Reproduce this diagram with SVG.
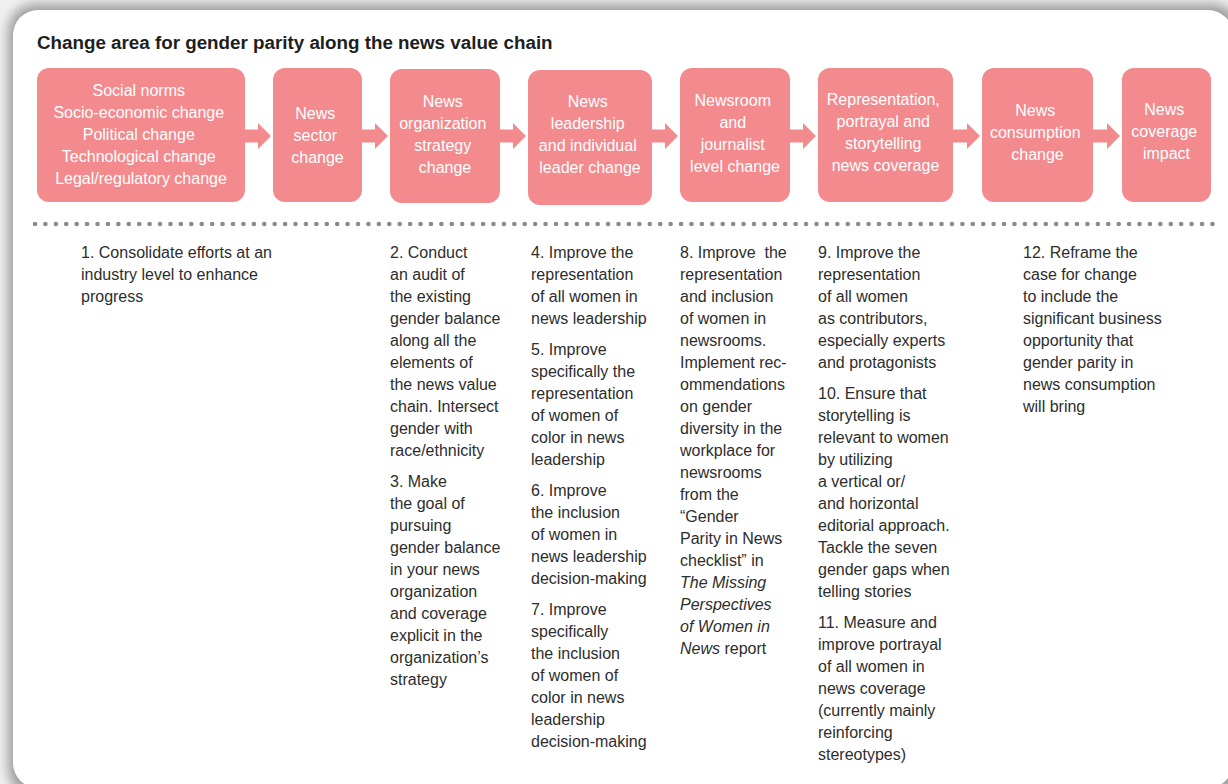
<svg xmlns="http://www.w3.org/2000/svg" width="1228" height="784" viewBox="0 0 1228 784">
  <defs>
    <filter id="shadow" x="-5%" y="-5%" width="110%" height="110%">
      <feGaussianBlur stdDeviation="6"/>
    </filter>
    <style>
      .box { fill: #F28A8E; }
      .arrow { fill: #F28A8E; }
      .bt { font-family: "Liberation Sans", Arial, sans-serif; font-size: 16px; fill: #ffffff; text-anchor: middle; }
      .body { font-family: "Liberation Sans", Arial, sans-serif; font-size: 16px; fill: #2d2d2d; white-space: pre; }
      .title { font-family: "Liberation Sans", Arial, sans-serif; font-size: 18.8px; font-weight: bold; fill: #1e1e1e; }
      .it { font-style: italic; }
      .dots { stroke: #8a8b8f; stroke-width: 4.6; stroke-linecap: round; stroke-dasharray: 0 10.42; fill: none; }
    </style>
  </defs>

  <rect x="0" y="0" width="1228" height="784" fill="#f1f1f1"/>
  <rect x="8" y="4" width="1232" height="792" rx="27" fill="#8e8e8e" opacity="0.85" filter="url(#shadow)"/>
  <rect id="panel" x="13" y="10" width="1220" height="778" rx="25" fill="#ffffff"/>

  <text class="title" x="37" y="49">Change area for gender parity along the news value chain</text>

  <g id="connectors">
    <path class="arrow" d="M244 129.5 H258 V123 L271 136 L258 149 V142.5 H244 Z"/>
    <path class="arrow" d="M361 129.5 H375 V123 L388 136 L375 149 V142.5 H361 Z"/>
    <path class="arrow" d="M499 129.5 H513 V123 L526 136 L513 149 V142.5 H499 Z"/>
    <path class="arrow" d="M651 129.5 H665 V123 L678 136 L665 149 V142.5 H651 Z"/>
    <path class="arrow" d="M789 129.5 H803 V123 L816 136 L803 149 V142.5 H789 Z"/>
    <path class="arrow" d="M952 129.5 H967 V123 L980 136 L967 149 V142.5 H952 Z"/>
    <path class="arrow" d="M1092 129.5 H1107 V123 L1120 136 L1107 149 V142.5 H1092 Z"/>
  </g>

  <g id="node-societal">
    <rect class="box" x="37" y="68" width="208" height="134" rx="12"/>
    <text class="bt">
      <tspan x="141" y="96">Social norms</tspan>
      <tspan x="141" y="118">Socio-economic change</tspan>
      <tspan x="141" y="140">Political change</tspan>
      <tspan x="141" y="162">Technological change</tspan>
      <tspan x="141" y="184">Legal/regulatory change</tspan>
    </text>
  </g>

  <g id="node-sector">
    <rect class="box" x="273" y="68" width="89" height="134" rx="12"/>
    <text class="bt">
      <tspan x="317.5" y="119">News</tspan>
      <tspan x="317.5" y="141">sector</tspan>
      <tspan x="317.5" y="163">change</tspan>
    </text>
  </g>

  <g id="node-organization">
    <rect class="box" x="390" y="69" width="110" height="134" rx="12"/>
    <text class="bt">
      <tspan x="445" y="107">News</tspan>
      <tspan x="445" y="129">organization</tspan>
      <tspan x="445" y="151">strategy</tspan>
      <tspan x="445" y="173">change</tspan>
    </text>
  </g>

  <g id="node-leadership">
    <rect class="box" x="528" y="70" width="124" height="135" rx="12"/>
    <text class="bt">
      <tspan x="590" y="107">News</tspan>
      <tspan x="590" y="129">leadership</tspan>
      <tspan x="590" y="151">and individual</tspan>
      <tspan x="590" y="173">leader change</tspan>
    </text>
  </g>

  <g id="node-newsroom">
    <rect class="box" x="680" y="68" width="110" height="134" rx="12"/>
    <text class="bt">
      <tspan x="735" y="106">Newsroom</tspan>
      <tspan x="735" y="128">and</tspan>
      <tspan x="735" y="150">journalist</tspan>
      <tspan x="735" y="172">level change</tspan>
    </text>
  </g>

  <g id="node-representation">
    <rect class="box" x="818" y="68" width="135" height="134" rx="12"/>
    <text class="bt">
      <tspan x="885.5" y="105">Representation,</tspan>
      <tspan x="885.5" y="127">portrayal and</tspan>
      <tspan x="885.5" y="149">storytelling</tspan>
      <tspan x="885.5" y="171">news coverage</tspan>
    </text>
  </g>

  <g id="node-consumption">
    <rect class="box" x="982" y="68" width="111" height="134" rx="12"/>
    <text class="bt">
      <tspan x="1037.5" y="116">News</tspan>
      <tspan x="1037.5" y="138">consumption</tspan>
      <tspan x="1037.5" y="160">change</tspan>
    </text>
  </g>

  <g id="node-impact">
    <rect class="box" x="1122" y="68" width="89" height="134" rx="12"/>
    <text class="bt">
      <tspan x="1166.5" y="115">News</tspan>
      <tspan x="1166.5" y="137">coverage</tspan>
      <tspan x="1166.5" y="159">impact</tspan>
    </text>
  </g>

  <g id="divider">
    <line class="dots" x1="35" y1="224" x2="1216" y2="224"/>
  </g>

  <g id="actions-col1">
    <text class="body">
      <tspan x="81" y="258">1. Consolidate efforts at an</tspan>
      <tspan x="81" y="280">industry level to enhance</tspan>
      <tspan x="81" y="302">progress</tspan>
    </text>
  </g>

  <g id="actions-col2">
    <text class="body">
      <tspan x="390" y="258">2. Conduct</tspan>
      <tspan x="390" y="280">an audit of</tspan>
      <tspan x="390" y="302">the existing</tspan>
      <tspan x="390" y="324">gender balance</tspan>
      <tspan x="390" y="346">along all the</tspan>
      <tspan x="390" y="368">elements of</tspan>
      <tspan x="390" y="390">the news value</tspan>
      <tspan x="390" y="412">chain. Intersect</tspan>
      <tspan x="390" y="434">gender with</tspan>
      <tspan x="390" y="456">race/ethnicity</tspan>
      <tspan x="390" y="487">3. Make</tspan>
      <tspan x="390" y="509">the goal of</tspan>
      <tspan x="390" y="531">pursuing</tspan>
      <tspan x="390" y="553">gender balance</tspan>
      <tspan x="390" y="575">in your news</tspan>
      <tspan x="390" y="597">organization</tspan>
      <tspan x="390" y="619">and coverage</tspan>
      <tspan x="390" y="641">explicit in the</tspan>
      <tspan x="390" y="663">organization’s</tspan>
      <tspan x="390" y="685">strategy</tspan>
    </text>
  </g>

  <g id="actions-col3">
    <text class="body">
      <tspan x="531" y="258">4. Improve the</tspan>
      <tspan x="531" y="280">representation</tspan>
      <tspan x="531" y="302">of all women in</tspan>
      <tspan x="531" y="324">news leadership</tspan>
      <tspan x="531" y="355">5. Improve</tspan>
      <tspan x="531" y="377">specifically the</tspan>
      <tspan x="531" y="399">representation</tspan>
      <tspan x="531" y="421">of women of</tspan>
      <tspan x="531" y="443">color in news</tspan>
      <tspan x="531" y="465">leadership</tspan>
      <tspan x="531" y="496">6. Improve</tspan>
      <tspan x="531" y="518">the inclusion</tspan>
      <tspan x="531" y="540">of women in</tspan>
      <tspan x="531" y="562">news leadership</tspan>
      <tspan x="531" y="584">decision-making</tspan>
      <tspan x="531" y="615">7. Improve</tspan>
      <tspan x="531" y="637">specifically</tspan>
      <tspan x="531" y="659">the inclusion</tspan>
      <tspan x="531" y="681">of women of</tspan>
      <tspan x="531" y="703">color in news</tspan>
      <tspan x="531" y="725">leadership</tspan>
      <tspan x="531" y="747">decision-making</tspan>
    </text>
  </g>

  <g id="actions-col4">
    <text class="body">
      <tspan x="680" y="258">8. Improve  the</tspan>
      <tspan x="680" y="280">representation</tspan>
      <tspan x="680" y="302">and inclusion</tspan>
      <tspan x="680" y="324">of women in</tspan>
      <tspan x="680" y="346">newsrooms.</tspan>
      <tspan x="680" y="368">Implement rec-</tspan>
      <tspan x="680" y="390">ommendations</tspan>
      <tspan x="680" y="412">on gender</tspan>
      <tspan x="680" y="434">diversity in the</tspan>
      <tspan x="680" y="456">workplace for</tspan>
      <tspan x="680" y="478">newsrooms</tspan>
      <tspan x="680" y="500">from the</tspan>
      <tspan x="680" y="522">“Gender</tspan>
      <tspan x="680" y="544">Parity in News</tspan>
      <tspan x="680" y="566">checklist” in</tspan>
      <tspan class="it" x="680" y="588">The Missing</tspan>
      <tspan class="it" x="680" y="610">Perspectives</tspan>
      <tspan class="it" x="680" y="632">of Women in</tspan>
      <tspan class="it" x="680" y="654">News</tspan><tspan> report</tspan>
    </text>
  </g>

  <g id="actions-col5">
    <text class="body">
      <tspan x="818" y="258">9. Improve the</tspan>
      <tspan x="818" y="280">representation</tspan>
      <tspan x="818" y="302">of all women</tspan>
      <tspan x="818" y="324">as contributors,</tspan>
      <tspan x="818" y="346">especially experts</tspan>
      <tspan x="818" y="368">and protagonists</tspan>
      <tspan x="818" y="399">10. Ensure that</tspan>
      <tspan x="818" y="421">storytelling is</tspan>
      <tspan x="818" y="443">relevant to women</tspan>
      <tspan x="818" y="465">by utilizing</tspan>
      <tspan x="818" y="487">a vertical or/</tspan>
      <tspan x="818" y="509">and horizontal</tspan>
      <tspan x="818" y="531">editorial approach.</tspan>
      <tspan x="818" y="553">Tackle the seven</tspan>
      <tspan x="818" y="575">gender gaps when</tspan>
      <tspan x="818" y="597">telling stories</tspan>
      <tspan x="818" y="628">11. Measure and</tspan>
      <tspan x="818" y="650">improve portrayal</tspan>
      <tspan x="818" y="672">of all women in</tspan>
      <tspan x="818" y="694">news coverage</tspan>
      <tspan x="818" y="716">(currently mainly</tspan>
      <tspan x="818" y="738">reinforcing</tspan>
      <tspan x="818" y="760">stereotypes)</tspan>
    </text>
  </g>

  <g id="actions-col6">
    <text class="body">
      <tspan x="1023" y="258">12. Reframe the</tspan>
      <tspan x="1023" y="280">case for change</tspan>
      <tspan x="1023" y="302">to include the</tspan>
      <tspan x="1023" y="324">significant business</tspan>
      <tspan x="1023" y="346">opportunity that</tspan>
      <tspan x="1023" y="368">gender parity in</tspan>
      <tspan x="1023" y="390">news consumption</tspan>
      <tspan x="1023" y="412">will bring</tspan>
    </text>
  </g>
</svg>
